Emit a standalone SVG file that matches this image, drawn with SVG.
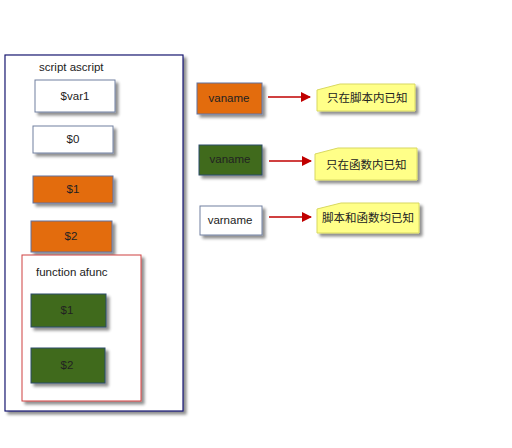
<svg xmlns="http://www.w3.org/2000/svg" width="512" height="448" viewBox="0 0 512 448">
<defs>
<filter id="sh" x="-20%" y="-20%" width="150%" height="150%">
<feGaussianBlur in="SourceAlpha" stdDeviation="1.5"/>
<feOffset dx="3" dy="3" result="b"/>
<feComponentTransfer><feFuncA type="linear" slope="0.45"/></feComponentTransfer>
<feMerge><feMergeNode/><feMergeNode in="SourceGraphic"/></feMerge>
</filter>
<marker id="ah" viewBox="0 0 10 10" refX="9" refY="5" markerWidth="10" markerHeight="10" markerUnits="userSpaceOnUse" orient="auto">
<path d="M0,0 L10,5 L0,10 z" fill="#c00000"/>
</marker>
<style>
text{font-family:"Liberation Sans",Arial,"Noto Sans CJK SC",sans-serif;font-size:11.5px;fill:#222;}
.c{text-anchor:middle;}
.cjk{font-size:11.5px;}
.w{fill:#fff;stroke:#7080a0;stroke-width:1;}
.o{fill:#e36c09;stroke:#6070a0;stroke-width:1;}
.g{fill:#3f6b1a;stroke:#2d4a6a;stroke-width:1;}
.n{fill:#ffff88;stroke:#d8d860;stroke-width:1;}
.cn{stroke:#c00000;stroke-width:1.5;fill:none;marker-end:url(#ah);}
</style>
</defs>
<rect width="512" height="448" fill="#fff"/>
<g id="script">
<rect x="5" y="55" width="178" height="356" fill="#fff" stroke="#1a1a70" stroke-width="1.2" filter="url(#sh)"/>
<text x="39" y="71" fill="#444">script ascript</text>
</g>
<g id="var1"><rect class="w" x="35" y="80" width="80" height="32" filter="url(#sh)"/><text class="c" x="75" y="100">$var1</text></g>
<g id="d0"><rect class="w" x="33" y="126" width="80" height="27" filter="url(#sh)"/><text class="c" x="73" y="143">$0</text></g>
<g id="d1"><rect class="o" x="33" y="176" width="80" height="27" filter="url(#sh)"/><text class="c" x="73" y="193">$1</text></g>
<g id="d2"><rect class="o" x="31" y="221" width="81" height="31" filter="url(#sh)"/><text class="c" x="71" y="240">$2</text></g>
<g id="afunc">
<rect x="22" y="255" width="119" height="146" fill="#fff" stroke="#d04040" stroke-width="1" filter="url(#sh)"/>
<text x="36" y="276" fill="#444">function afunc</text>
</g>
<g id="f1"><rect class="g" x="31" y="294" width="75" height="33" filter="url(#sh)"/><text class="c" x="67" y="314">$1</text></g>
<g id="f2"><rect class="g" x="31" y="348" width="74" height="35" filter="url(#sh)"/><text class="c" x="67" y="369">$2</text></g>
<g id="leg1"><rect class="o" x="197" y="83" width="65" height="31" filter="url(#sh)"/><text class="c" x="229" y="102">vaname</text></g>
<g id="leg2"><rect class="g" x="199" y="145" width="63" height="30" filter="url(#sh)"/><text class="c" x="230" y="163">vaname</text></g>
<g id="leg3"><rect class="w" x="200" y="206" width="62" height="29" filter="url(#sh)"/><text class="c" x="230" y="224">varname</text></g>
<g id="note1"><path class="n" d="M340,84 H415 V111 H317 V90 Z" filter="url(#sh)"/><text class="cjk" x="327" y="102">只在脚本内已知</text></g>
<g id="note2"><path class="n" d="M338,148 H417 V180 H315 V154 Z" filter="url(#sh)"/><text class="cjk" x="326" y="169">只在函数内已知</text></g>
<g id="note3"><path class="n" d="M341,203 H419 V233 H317 V209 Z" filter="url(#sh)"/><text class="cjk" x="322" y="222">脚本和函数均已知</text></g>
<g id="connectors">
<path class="cn" d="M268,97 H310"/>
<path class="cn" d="M269,161 H311"/>
<path class="cn" d="M269,217 H311"/>
</g>
</svg>
